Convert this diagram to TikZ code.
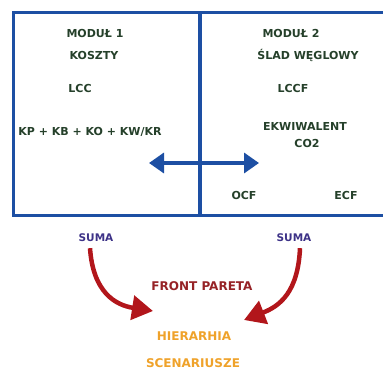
\documentclass[tikz,border=0pt]{standalone}
\usepackage{fontspec}
\setmainfont{DejaVu Sans}
\usetikzlibrary{arrows.meta}
\definecolor{boxblue}{HTML}{1D4FA3}
\definecolor{txtgreen}{HTML}{25402A}
\definecolor{sumapurple}{HTML}{3D3287}
\definecolor{frontred}{HTML}{962226}
\definecolor{arrred}{HTML}{B2161B}
\definecolor{hierorange}{HTML}{EFA22A}
\tikzset{
  lbl/.style={inner sep=0pt, font=\bfseries\fontsize{11}{13}\selectfont, text=txtgreen},
  suma/.style={lbl, font=\bfseries\fontsize{10.5}{12}\selectfont, text=sumapurple},
  front/.style={lbl, font=\bfseries\fontsize{12}{14}\selectfont, text=frontred},
  hier/.style={lbl, font=\bfseries\fontsize{12}{14}\selectfont, text=hierorange},
  frame/.style={draw=boxblue, line width=3.5pt},
  bluearr/.style={draw=boxblue, line width=3.5pt, {Triangle[length=15pt,width=20pt]}-{Triangle[length=15pt,width=20pt]}},
  redarr/.style={draw=arrred, line width=4.5pt, -{Triangle[length=21pt,width=24pt]}}
}
\begin{document}
\begin{tikzpicture}[x=1pt,y=-1pt]
\useasboundingbox (0,0) rectangle (383,372);
% frames
\draw[frame] (390,12.5) -- (13.5,12.5) -- (13.5,215.5) -- (390,215.5);
\draw[frame] (200,12.5) -- (200,215.5);
% left module
\node[lbl] (m1) at (95,33) {MODUŁ 1};
\node[lbl] (koszty) at (94,55) {KOSZTY};
\node[lbl] (lcc) at (80,88) {LCC};
\node[lbl] (kp) at (90,132) {KP + KB + KO + KW/KR};
% right module
\node[lbl] (m2) at (291,33) {MODUŁ 2};
\node[lbl] (slad) at (308,55) {ŚLAD WĘGLOWY};
\node[lbl] (lccf) at (293,88) {LCCF};
\node[lbl] (ekw) at (305,126) {EKWIWALENT};
\node[lbl] (co2) at (307,143) {CO2};
\node[lbl] (ocf) at (244,195) {OCF};
\node[lbl] (ecf) at (346,195) {ECF};
% double arrow
\coordinate (la) at (149,163);
\coordinate (ra) at (259,163);
\draw[bluearr] (la) -- (ra);
% bottom
\node[suma] (s1) at (96,238) {SUMA};
\node[suma] (s2) at (294,238) {SUMA};
\node[front] (fp) at (202,286) {FRONT PARETA};
\node[hier] (hi) at (194,336) {HIERARHIA};
\node[hier] (sc) at (193,363) {SCENARIUSZE};
\coordinate (t1) at (153,311);
\coordinate (t2) at (244,320);
\draw[redarr] (s1.south -| 90,0) ++(0,6) .. controls (93,292) and (115,305) .. (t1);
\draw[redarr] (s2.south -| 300,0) ++(0,6) .. controls (298,292) and (280,306) .. (t2);
\end{tikzpicture}
\end{document}
